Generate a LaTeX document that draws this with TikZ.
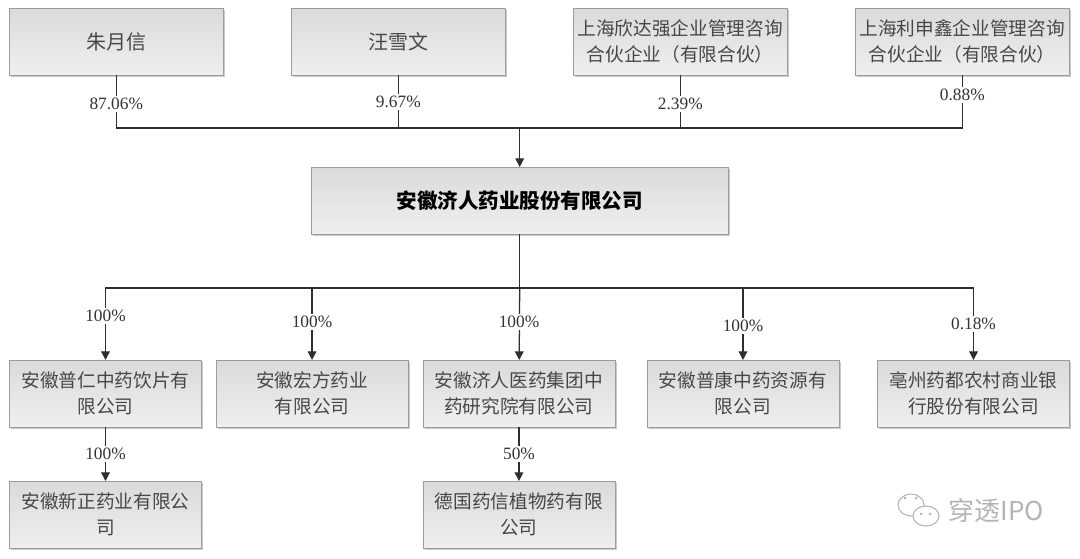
\documentclass[tikz,border=0pt]{standalone}
\usepackage{fontspec}
\setmainfont{Noto Sans CJK SC}
\newfontfamily\pctfont{Liberation Serif}
\usetikzlibrary{positioning,shadows,arrows.meta}

\definecolor{boxline}{HTML}{9C9C9C}
\definecolor{boxtop}{HTML}{DADADA}
\definecolor{boxbottom}{HTML}{EFEFEF}
\definecolor{wire}{HTML}{2E2E2E}
\definecolor{brandgray}{HTML}{B4B4B4}

\tikzset{
  company/.style={draw=boxline, line width=0.7pt, top color=boxtop, bottom color=boxbottom,
    drop shadow={shadow xshift=1.3pt, shadow yshift=-1.3pt, fill=black!45, opacity=0.45},
    align=center, inner sep=0pt, outer sep=0pt, text=black!72,
    font=\fontsize{14}{19.5}\selectfont},
  holderbox/.style={company, minimum width=160.5pt, minimum height=50.25pt},
  personbox/.style={holderbox, font=\fontsize{15}{19.5}\selectfont},
  parentbox/.style={company, minimum width=312.75pt, minimum height=50.25pt, text=black,
    font=\fontsize{15.4}{19.5}\selectfont\bfseries},
  subbox/.style={company, minimum width=144pt, minimum height=50.25pt},
  pct/.style={fill=white, inner xsep=1pt, inner ysep=1.5pt, text=black!80,
    font=\pctfont\fontsize{13}{13}\selectfont},
  wireline/.style={draw=wire, line width=0.95pt},
  wirearrow/.style={wireline, -{Triangle[length=6.5pt,width=6.5pt]}}
}

\begin{document}
\begin{tikzpicture}[x=0.75pt,y=-0.75pt]
  \useasboundingbox (0,0) rectangle (1080,558);

  % shareholders
  \node[personbox] (zhu) at (116.3,41.5) {朱月信};
  \node[personbox, right=51pt of zhu] (wang) {汪雪文};
  \node[holderbox, right=51pt of wang] (xinda) {上海欣达强企业管理咨询\\合伙企业（有限合伙）};
  \node[holderbox, right=51pt of xinda] (lishen) {上海利申鑫企业管理咨询\\合伙企业（有限合伙）};

  \node[parentbox] (jiren) at (519.7,200.5) {安徽济人药业股份有限公司};

  % subsidiaries
  \node[subbox] (puren) at (105.5,393.5) {安徽普仁中药饮片有\\限公司};
  \node[subbox, right=10.9pt of puren] (hongfang) {安徽宏方药业\\有限公司};
  \node[subbox, right=11.2pt of hongfang] (yanjiu) {安徽济人医药集团中\\药研究院有限公司};
  \node[subbox, right=24pt of yanjiu] (pukang) {安徽普康中药资源有\\限公司};
  \node[subbox, right=28.9pt of pukang] (bank) {亳州药都农村商业银\\行股份有限公司};

  \node[subbox, below=40.5pt of puren] (xinzheng) {安徽新正药业有限公\\司};
  \node[subbox, below=40.5pt of yanjiu] (yaoxin) {德国药信植物药有限\\公司};

  \coordinate (topbus) at (519.7,128);
  \coordinate (lowbus) at (519.7,288);

  \draw[wireline] (zhu) |- (topbus);
  \draw[wireline] (wang) |- (topbus);
  \draw[wireline] (xinda) |- (topbus);
  \draw[wireline] (lishen) |- (topbus);
  \draw[wirearrow] (topbus) -- (jiren);

  \draw[wireline] (jiren) -- (lowbus);
  \draw[wirearrow] (lowbus) -| (puren);
  \draw[wirearrow] (lowbus) -| (hongfang);
  \draw[wirearrow] (lowbus) -- (yanjiu);
  \draw[wirearrow] (lowbus) -| (pukang);
  \draw[wirearrow] (lowbus) -| (bank);
  \draw[wirearrow] (puren) -- (xinzheng);
  \draw[wirearrow] (yanjiu) -- (yaoxin);

  % share labels
  \node[pct] (p1) at (zhu |- 0,104) {87.06\%};
  \node[pct] (p2) at (wang |- 0,102) {9.67\%};
  \node[pct] (p3) at (xinda |- 0,104) {2.39\%};
  \node[pct] (p4) at (lishen |- 0,95) {0.88\%};
  \node[pct] (p5) at (puren |- 0,316) {100\%};
  \node[pct] (p6) at (hongfang |- 0,322) {100\%};
  \node[pct] (p7) at (yanjiu |- 0,322) {100\%};
  \node[pct] (p8) at (pukang |- 0,326) {100\%};
  \node[pct] (p9) at (bank |- 0,324) {0.18\%};
  \node[pct] (p10) at (puren |- 0,454) {100\%};
  \node[pct] (p11) at (yanjiu |- 0,454) {50\%};

  % watermark
  \draw[brandgray, line width=0.8pt] (911,505) ellipse (13 and 11);
  \draw[brandgray, line width=0.8pt, fill=white] (926,516) ellipse (13 and 10);
  \fill[brandgray] (921,514) circle (1.5) (930,514) circle (1.5) (905,498) circle (1.5) (916,498) circle (1.5);
  \node[text=brandgray, font=\fontsize{19.5}{19.5}\selectfont, inner sep=0pt] (brand) at (996.5,511) {穿透IPO};
\end{tikzpicture}
\end{document}
